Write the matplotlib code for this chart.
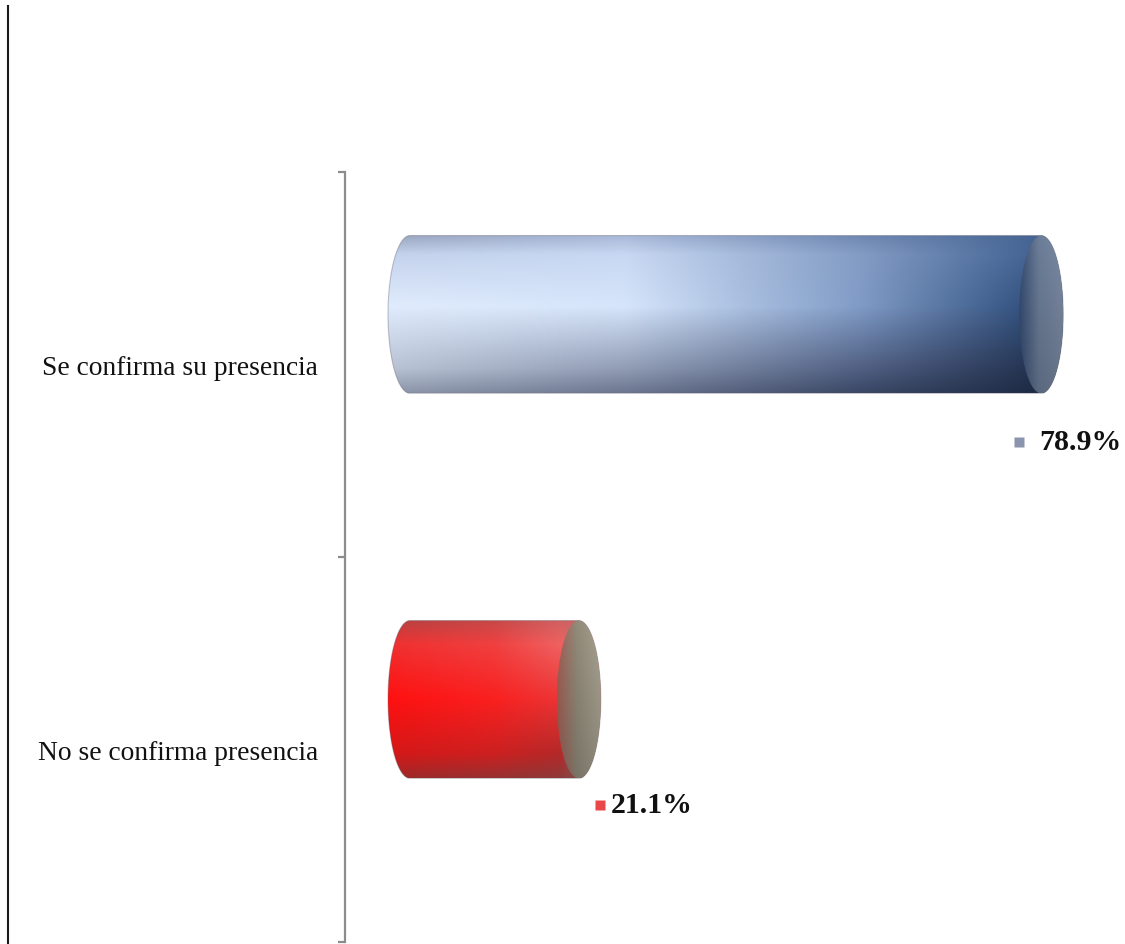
import numpy as np
import matplotlib
matplotlib.use("Agg")
import matplotlib.pyplot as plt
from matplotlib.path import Path
from matplotlib.patches import PathPatch, Ellipse
from matplotlib.lines import Line2D
from matplotlib.colors import to_rgb
import matplotlib.transforms as mtransforms

# ---------------- data ----------------
categories = ["Se confirma su presencia", "No se confirma presencia"]
values = [78.9, 21.1]
value_labels = ["78.9%", "21.1%"]

# ---------------- style / layout ----------------
W, H, DPI = 1125, 945, 100
PX_PER_UNIT = 8.0            # horizontal pixels per percentage point
BAR_H = 0.41                 # bar thickness (category units)
BAR_SHIFT = 0.13             # 3-D perspective shift of the bars (category units)
CAP_RX = 2.75                # half width of the end ellipses (data units)
label_dx_px = [-2, 32]       # text start offset from bar end
marker_dx_px = [-22, 21]
label_dy_px = [-77, -55]
marker_colors = ["#8a94ad", "#e84848"]

blue_ctrl_x = [0.0, 0.35, 0.7, 1.0]
blue_ctrl_y = [0.0, 0.12, 0.45, 0.85, 1.0]
blue_cols = [
    ["#9aa6c0", "#a8b8d8", "#6f88b2", "#41608e"],
    ["#c4d2ec", "#c8d8f2", "#839cc4", "#395a8c"],
    ["#e0ecfd", "#d6e5fb", "#7f9bc6", "#21416f"],
    ["#b8c2d4", "#909cb4", "#505f82", "#1c2b48"],
    ["#8e97aa", "#6c7690", "#3a4765", "#1a2640"],
]
blue_cap = ["#34496e", "#667790", "#75839b"]

red_ctrl_x = [0.0, 0.5, 0.8, 1.0]
red_ctrl_y = [0.0, 0.15, 0.5, 0.85, 1.0]
red_cols = [
    ["#b84040", "#c84848", "#d06060", "#b87070"],
    ["#f03030", "#f04040", "#f06060", "#e07070"],
    ["#ff1010", "#fa2020", "#ec3434", "#c85050"],
    ["#d41818", "#cc2020", "#b42828", "#985858"],
    ["#a02828", "#983030", "#903838", "#806060"],
]
red_cap = ["#9a5a50", "#8a8474", "#a09a8a"]


def grad_image(cx, cy, cols, nx=400, ny=160):
    arr = np.array([[to_rgb(c) for c in row] for row in cols])
    xs = np.linspace(0, 1, nx)
    ys = np.linspace(0, 1, ny)
    rows = np.stack([np.stack([np.interp(xs, cx, arr[r, :, k]) for k in range(3)], -1)
                     for r in range(arr.shape[0])])
    img = np.empty((ny, nx, 3))
    for k in range(3):
        for j in range(nx):
            img[:, j, k] = np.interp(ys, cy, rows[:, j, k])
    return np.clip(img, 0, 1)


def silhouette(v, c, h, rx, n=60):
    ry = h / 2
    t1 = np.linspace(-np.pi / 2, np.pi / 2, n)
    right = np.column_stack([v + rx * np.cos(t1), c + ry * np.sin(t1)])
    t2 = np.linspace(np.pi / 2, 3 * np.pi / 2, n)
    left = np.column_stack([0 + rx * np.cos(t2), c + ry * np.sin(t2)])
    verts = np.vstack([right, left, right[:1]])
    codes = [Path.MOVETO] + [Path.LINETO] * (len(verts) - 2) + [Path.CLOSEPOLY]
    return Path(verts, codes)


fig = plt.figure(figsize=(W / DPI, H / DPI), dpi=DPI)
fig.patch.set_facecolor("white")

ax_left_px, ax_top_px, ax_bot_px = 345, 173, 943
zero_px = 410
ax = fig.add_axes([ax_left_px / W, (H - ax_bot_px) / H,
                   (W - ax_left_px) / W, (ax_bot_px - ax_top_px) / H])
x0 = -(zero_px - ax_left_px) / PX_PER_UNIT
x1 = x0 + (W - ax_left_px) / PX_PER_UNIT
n = len(categories)
ypos = [n - 1 - i for i in range(n)]   # first category on top

for i, (v, yc) in enumerate(zip(values, ypos)):
    c = yc + BAR_SHIFT
    if i == 0:
        cx, cy, cols, capc = blue_ctrl_x, blue_ctrl_y, blue_cols, blue_cap
    else:
        cx, cy, cols, capc = red_ctrl_x, red_ctrl_y, red_cols, red_cap
    img = grad_image(cx, cy, cols)
    path = silhouette(v, c, BAR_H, CAP_RX)
    patch = PathPatch(path, facecolor="none", edgecolor="none")
    ax.add_patch(patch)
    im = ax.imshow(img, extent=[-CAP_RX, v + CAP_RX, c - BAR_H / 2, c + BAR_H / 2],
                   origin="upper", aspect="auto", interpolation="bilinear", zorder=2)
    im.set_clip_path(patch)
    ax.add_patch(PathPatch(path, facecolor="none", edgecolor=(0.35, 0.35, 0.4, 0.35),
                           lw=0.8, zorder=3))
    cap = Ellipse((v, c), 2 * CAP_RX, BAR_H, facecolor="none", edgecolor="none")
    ax.add_patch(cap)
    capimg = grad_image([0.0, 0.45, 1.0], [0.0, 1.0], [capc, capc], nx=80, ny=40)
    shade = np.linspace(1.05, 0.88, 40)[:, None, None]
    capimg = np.clip(capimg * shade, 0, 1)
    ci = ax.imshow(capimg, extent=[v - CAP_RX, v + CAP_RX, c - BAR_H / 2, c + BAR_H / 2],
                   origin="upper", aspect="auto", interpolation="bilinear", zorder=4)
    ci.set_clip_path(cap)

    ax.annotate(value_labels[i], xy=(v, yc),
                xytext=(label_dx_px[i] * 0.72, label_dy_px[i] * 0.72),
                textcoords="offset points", ha="left", va="center",
                fontsize=21.5, fontweight="bold", family="Liberation Serif", color="#111111",
                zorder=6, annotation_clip=False)
    ax.plot([v], [yc], marker="s", markersize=6.5, color=marker_colors[i],
            markeredgecolor="none", zorder=6, clip_on=False,
            transform=ax.transData + mtransforms.ScaledTranslation(
                marker_dx_px[i] / DPI, label_dy_px[i] / DPI, fig.dpi_scale_trans))

ax.set_xlim(x0, x1)
ax.set_ylim(-0.5, n - 0.5)
for s in ["top", "right", "bottom"]:
    ax.spines[s].set_visible(False)
ax.spines["left"].set_color("#8c8c8c")
ax.spines["left"].set_linewidth(1.6)
ax.set_xticks([])
ax.set_yticks(np.arange(-0.5, n, 1.0))
ax.set_yticklabels([])
ax.tick_params(axis="y", which="major", length=5, width=1.6, color="#8c8c8c")
ax.set_yticks(ypos, minor=True)
ax.set_yticklabels(categories, minor=True, family="Liberation Serif", fontsize=19.8,
                   color="#111111")
ax.tick_params(axis="y", which="minor", length=0, pad=19.5)
ax.patch.set_alpha(0)

fig.add_artist(Line2D([8 / W, 8 / W], [0, 1 - 7 / H], color="#1a1a1a", lw=1.5))

fig.savefig("out.png", dpi=DPI, facecolor="white")
